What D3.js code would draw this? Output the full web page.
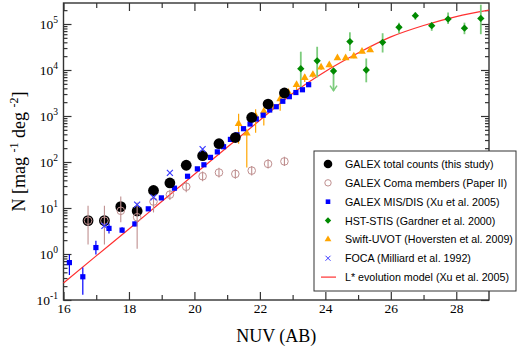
<!DOCTYPE html>
<html>
<head>
<meta charset="utf-8">
<script src="https://cdn.jsdelivr.net/npm/d3@7"></script>
<style>
body { margin: 0; background: #fff; }
svg { display: block; }
</style>
</head>
<body>
<div id="chart"></div>
<script>
// GALEX total counts (this study)
var galexMag = [16.75, 17.25, 17.75, 18.25, 18.75, 19.25, 19.75, 20.25, 20.75, 21.25, 21.75, 22.25, 22.75];
var galexN   = [5.3, 5.3, 10.7, 8.6, 24, 35, 85, 137, 250, 340, 930, 1820, 3160];
var galexLo  = [4.3, 4.3, 8.8, 7.0, 20, 30, 76, 125, 232, 320, 890, 1760, 3060];
var galexHi  = [6.5, 6.5, 13, 10.5, 29, 41, 95, 150, 270, 362, 975, 1890, 3270];

// GALEX Coma members (Paper II)
var comaMag = [16.75, 17.25, 17.75, 18.25, 18.75, 19.25, 19.75, 20.25, 20.75, 21.25, 21.75, 22.25, 22.75];
var comaN   = [5.3, 5.3, 8.7, 6.3, 13.8, 19.5, 29, 49, 59, 55, 65, 91, 103];
var comaLo  = [1.6, 1.6, 4.9, 1.3, 8, 15, 22, 38, 46, 43, 51, 72, 82];
var comaHi  = [11.2, 11.2, 17.8, 13.2, 17, 25, 37, 62, 75, 70, 82, 115, 130];

// GALEX MIS/DIS (Xu et al. 2005)
var misMag = [16.18, 16.59, 16.99, 17.39, 17.79, 18.18, 18.59, 18.99, 19.39, 19.79, 20.09, 20.29, 20.49, 20.7,
              20.89, 21.1, 21.3, 21.5, 21.7, 21.89, 22.1, 22.3, 22.5, 22.7, 22.9, 23.1, 23.3, 23.49];
var misN   = [0.65, 0.32, 1.38, 3.6, 3.3, 4.5, 9.6, 16.6, 27, 49, 71, 87, 126, 166,
              215, 310, 390, 530, 670, 860, 1040, 1350, 1590, 2090, 2630, 3240, 3720, 4790];
var misLo  = [0.35, 0.13, 0.97, 2.8, 2.9, 4.0, 8.8, 15.5, 25.5, 47, 69, 85, 123, 163,
              211, 305, 385, 523, 662, 850, 1030, 1335, 1575, 2070, 2605, 3210, 3680, 4740];
var misHi  = [0.97, 0.51, 1.95, 4.6, 3.8, 5.1, 10.5, 17.8, 28.5, 51, 73, 89, 129, 169,
              219, 315, 395, 537, 678, 870, 1050, 1365, 1605, 2110, 2655, 3270, 3760, 4840];

// HST-STIS (Gardner et al. 2000)
var hstMag = [23.25, 23.75, 24.25, 24.75, 25.25, 25.75, 26.25, 26.75, 27.25, 27.75, 28.25, 28.75];
var hstN   = [10700, 15800, 9500, 41500, 10000, 40000, 85000, 152000, 92000, 128000, 81000, 132000];
var hstLo  = [3900, 6900, 3550, 26000, 5400, 24000, 63000, 123000, 71000, 100000, 60000, 60000];
var hstHi  = [25000, 32000, 9500, 66000, 17800, 63000, 107000, 178000, 107000, 178000, 107000, 263000];
var hstArrow = [false, false, true, false, false, false, false, false, false, false, false, false];

// Swift-UVOT (Hoversten et al. 2009)
var swiftMag = [21.35, 21.6, 21.87, 22.12, 22.37, 22.62, 22.87, 23.12, 23.37, 23.62, 23.87, 24.12, 24.37, 24.62, 24.87, 25.12, 25.37];
var swiftN   = [680, 420, 1000, 1260, 1660, 2340, 3230, 4800, 6760, 7940, 11500, 12900, 18200, 18200, 19900, 25300, 27300];
var swiftLo  = [250, 76, 430, 620, 1300, 1300, 2600, 3300, 5500, 6800, 10000, 11500, 16500, 16500, 18000, 23000, 25000];
var swiftHi  = [1120, 440, 1400, 1400, 2000, 2800, 3800, 5600, 8000, 9000, 13000, 14500, 20000, 20000, 22000, 28000, 30000];

// FOCA (Milliard et al. 1992)
var focaMag = [17.25, 18.25, 18.75, 19.25, 20.25];
var focaN   = [4.1, 11.8, 17, 58, 191];

// L* evolution model (Xu et al. 2005)
var modelMag = [16, 17, 18, 19, 20, 21, 22, 23, 24, 25, 26, 27, 28, 29];
var modelN   = [0.234, 0.91, 3.5, 13.8, 54, 209, 810, 3100, 9300, 23400, 52500, 93000, 145000, 200000];

var xMajor = [16, 18, 20, 22, 24, 26, 28];
var xMinor = [17, 19, 21, 23, 25, 27];
var yExp = [-1, 0, 1, 2, 3, 4, 5];

var legendLabels = ["GALEX total counts (this study)", "GALEX Coma members (Paper II)",
  "GALEX MIS/DIS (Xu et al. 2005)", "HST-STIS (Gardner et al. 2000)",
  "Swift-UVOT (Hoversten et al. 2009)", "FOCA (Milliard et al. 1992)",
  "L* evolution model (Xu et al. 2005)"];

var W = 520, H = 347;
var pL = 63.5, pR = 489, pT = 3, pB = 300;
var serif = "'Liberation Serif','Times New Roman',serif";
var sans = "'Liberation Sans',Arial,Helvetica,sans-serif";

var cComa = "#bf8f8f", cBlue = "#0000ff", cGreen = "#008a00", cGreenBar = "#7ccc7c",
    cOrange = "#ffa500", cFoca = "#3a3aff", cRed = "#ff3030";

var svg = d3.select("#chart").append("svg").attr("width", W).attr("height", H);

var x = d3.scaleLinear().domain([16, 29]).range([pL, pR]);
var y = d3.scaleLog().domain([0.1, Math.pow(10, (pB - pT) / 46 - 1)]).range([pB, pT]);

var yMinor = [];
yExp.forEach(function(e) {
  for (var m = 2; m <= 9; m++) {
    var v = m * Math.pow(10, e);
    if (v < y.domain()[1]) yMinor.push(v);
  }
});

// axes: ticks inward on all four sides
function styleAxis(g) {
  g.select(".domain").remove();
  g.selectAll(".tick line").attr("stroke", "#333").attr("stroke-width", 1.2);
  g.selectAll("text").attr("font-family", serif).attr("font-size", 13.5).attr("fill", "#000");
}
svg.append("g").attr("transform", "translate(0," + pB + ")")
  .call(d3.axisBottom(x).tickValues(xMajor).tickSize(-8).tickPadding(3).tickFormat(d3.format("d"))).call(styleAxis);
svg.append("g").attr("transform", "translate(0," + pB + ")")
  .call(d3.axisBottom(x).tickValues(xMinor).tickSize(-5).tickFormat("")).call(styleAxis);
svg.append("g").attr("transform", "translate(0," + pT + ")")
  .call(d3.axisTop(x).tickValues(xMajor).tickSize(-8).tickFormat("")).call(styleAxis);
svg.append("g").attr("transform", "translate(0," + pT + ")")
  .call(d3.axisTop(x).tickValues(xMinor).tickSize(-5).tickFormat("")).call(styleAxis);

var yMaj = yExp.map(function(e) { return Math.pow(10, e); });
svg.append("g").attr("transform", "translate(" + pL + ",0)")
  .call(d3.axisLeft(y).tickValues(yMaj).tickSize(-8).tickFormat("")).call(styleAxis);
svg.append("g").attr("transform", "translate(" + pL + ",0)")
  .call(d3.axisLeft(y).tickValues(yMinor).tickSize(-4).tickFormat("")).call(styleAxis);
svg.append("g").attr("transform", "translate(" + pR + ",0)")
  .call(d3.axisRight(y).tickValues(yMaj).tickSize(-8).tickFormat("")).call(styleAxis);
svg.append("g").attr("transform", "translate(" + pR + ",0)")
  .call(d3.axisRight(y).tickValues(yMinor).tickSize(-4).tickFormat("")).call(styleAxis);

// y tick labels 10^n
var yl = svg.append("g").selectAll("text").data(yExp).enter().append("text")
  .attr("x", 58).attr("y", function(e) { return y(Math.pow(10, e)) + 5; })
  .attr("text-anchor", "end").attr("font-family", serif).attr("font-size", 13.5);
yl.append("tspan").text("10");
yl.append("tspan").attr("dy", -6).attr("font-size", 9.5).text(function(e) { return e; });

// frame
svg.append("rect").attr("x", pL).attr("y", pT).attr("width", pR - pL).attr("height", pB - pT)
  .attr("fill", "none").attr("stroke", "#333").attr("stroke-width", 1.4);

// titles
svg.append("text").attr("x", (pL + pR) / 2).attr("y", 342).attr("text-anchor", "middle")
  .attr("font-family", serif).attr("font-size", 18).text("NUV (AB)");
var yt = svg.append("text").attr("transform", "translate(25," + (pT + pB) / 2 + ") rotate(-90)")
  .attr("text-anchor", "middle").attr("font-family", serif).attr("font-size", 18);
yt.append("tspan").text("N [mag ");
yt.append("tspan").attr("dy", -7).attr("font-size", 12).text("-1");
yt.append("tspan").attr("dy", 7).text("  deg ");
yt.append("tspan").attr("dy", -7).attr("font-size", 12).text("-2");
yt.append("tspan").attr("dy", 7).text("]");

var plot = svg.append("g");

function bars(mags, lo, hi, color, width) {
  plot.append("g").selectAll("line").data(mags).enter().append("line")
    .attr("x1", function(d) { return x(d); }).attr("x2", function(d) { return x(d); })
    .attr("y1", function(d, i) { return y(lo[i]); }).attr("y2", function(d, i) { return y(hi[i]); })
    .attr("stroke", color).attr("stroke-width", width);
}

// model line
var line = d3.line().x(function(d) { return x(d[0]); }).y(function(d) { return y(d[1]); }).curve(d3.curveMonotoneX);
plot.append("path").datum(d3.zip(modelMag, modelN)).attr("d", line)
  .attr("fill", "none").attr("stroke", cRed).attr("stroke-width", 1.2);

// HST-STIS
bars(hstMag, hstLo, hstHi, cGreenBar, 1.8);
plot.append("g").selectAll("path").data(hstMag.filter(function(d, i) { return hstArrow[i]; })).enter()
  .append("path").attr("d", function(d) {
    var i = hstMag.indexOf(d), px = x(d), py = y(hstLo[i]);
    return "M" + (px - 3.5) + "," + (py - 5) + "L" + px + "," + py + "L" + (px + 3.5) + "," + (py - 5);
  }).attr("fill", "none").attr("stroke", cGreenBar).attr("stroke-width", 1.5);
plot.append("g").selectAll("path").data(hstMag).enter().append("path")
  .attr("transform", function(d, i) { return "translate(" + x(d) + "," + y(hstN[i]) + ")"; })
  .attr("d", d3.symbol(d3.symbolDiamond2, 34)).attr("fill", cGreen);

// Swift-UVOT
bars(swiftMag, swiftLo, swiftHi, cOrange, 1.2);
plot.append("g").selectAll("path").data(swiftMag).enter().append("path")
  .attr("transform", function(d, i) { return "translate(" + x(d) + "," + y(swiftN[i]) + ")"; })
  .attr("d", d3.symbol(d3.symbolTriangle, 26)).attr("fill", cOrange);

// MIS/DIS
bars(misMag, misLo, misHi, cBlue, 1.2);
plot.append("g").selectAll("rect").data(misMag).enter().append("rect")
  .attr("x", function(d) { return x(d) - 2.6; }).attr("y", function(d, i) { return y(misN[i]) - 2.6; })
  .attr("width", 5.2).attr("height", 5.2).attr("fill", cBlue);

// GALEX total counts
bars(galexMag, galexLo, galexHi, "#000", 1.2);
plot.append("g").selectAll("circle").data(galexMag).enter().append("circle")
  .attr("cx", function(d) { return x(d); }).attr("cy", function(d, i) { return y(galexN[i]); })
  .attr("r", 5.4).attr("fill", "#000");

// Coma members
bars(comaMag, comaLo, comaHi, cComa, 1.1);
plot.append("g").selectAll("circle").data(comaMag).enter().append("circle")
  .attr("cx", function(d) { return x(d); }).attr("cy", function(d, i) { return y(comaN[i]); })
  .attr("r", 3.8).attr("fill", "none").attr("stroke", cComa).attr("stroke-width", 1);

// FOCA
plot.append("g").selectAll("path").data(focaMag).enter().append("path")
  .attr("transform", function(d, i) { return "translate(" + x(d) + "," + y(focaN[i]) + ")"; })
  .attr("d", "M-3,-3L3,3M-3,3L3,-3").attr("stroke", cFoca).attr("stroke-width", 1.2);

// legend
var lg = svg.append("g");
lg.append("rect").attr("x", 314).attr("y", 151).attr("width", 202).attr("height", 140)
  .attr("fill", "#fff").attr("stroke", "#333").attr("stroke-width", 1);
var rowY = function(i) { return 164 + i * 18.85; };
var mx = 328;
lg.append("circle").attr("cx", mx).attr("cy", rowY(0)).attr("r", 4.3).attr("fill", "#000");
lg.append("circle").attr("cx", mx).attr("cy", rowY(1)).attr("r", 3.2).attr("fill", "none").attr("stroke", cComa);
lg.append("rect").attr("x", mx - 2.3).attr("y", rowY(2) - 2.3).attr("width", 4.6).attr("height", 4.6).attr("fill", cBlue);
lg.append("path").attr("transform", "translate(" + mx + "," + rowY(3) + ")").attr("d", d3.symbol(d3.symbolDiamond2, 26)).attr("fill", cGreen);
lg.append("path").attr("transform", "translate(" + mx + "," + rowY(4) + ")").attr("d", d3.symbol(d3.symbolTriangle, 20)).attr("fill", cOrange);
lg.append("path").attr("transform", "translate(" + mx + "," + rowY(5) + ")").attr("d", "M-2.5,-2.5L2.5,2.5M-2.5,2.5L2.5,-2.5").attr("stroke", cFoca);
lg.append("line").attr("x1", 321).attr("x2", 336).attr("y1", rowY(6)).attr("y2", rowY(6)).attr("stroke", cRed).attr("stroke-width", 1.2);
lg.selectAll("text").data(legendLabels).enter().append("text")
  .attr("x", 345).attr("y", function(d, i) { return rowY(i) + 4; })
  .attr("font-family", sans).attr("font-size", 10.7).text(function(d) { return d; });
</script>
</body>
</html>
